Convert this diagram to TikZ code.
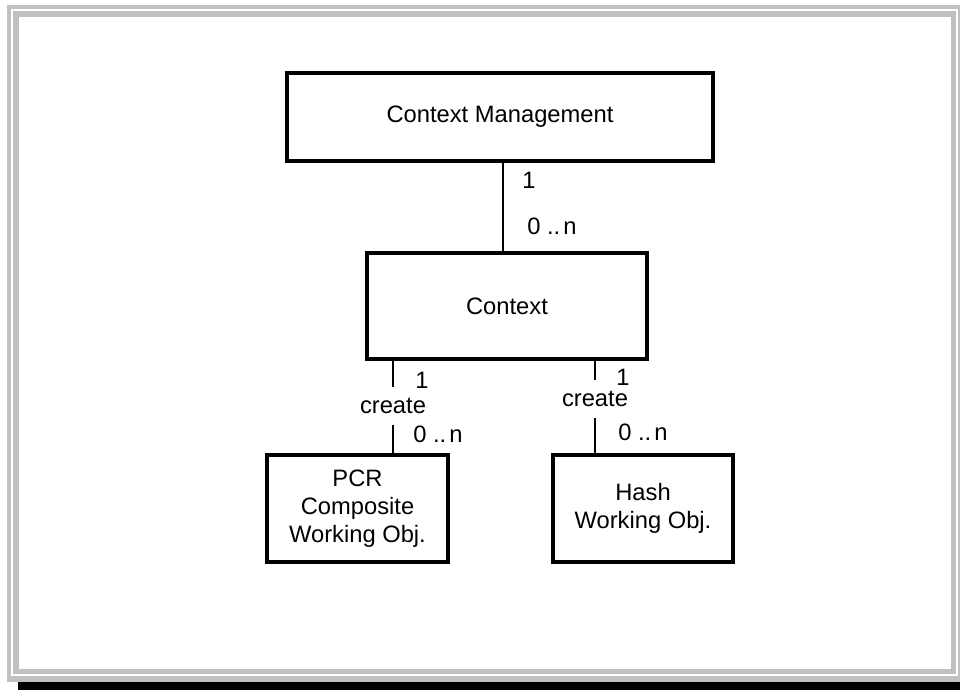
\documentclass[tikz,border=0pt]{standalone}
\usepackage{fontspec}
\setmainfont{Liberation Sans}
\definecolor{framegray}{RGB}{192,192,192}
\newcommand{\mult}{0 ..\kern2.4pt n}
\begin{document}
% one coordinate unit = one pixel (0.75pt); node sizes are given in pt
\begin{tikzpicture}[x=0.75pt,y=-0.75pt,
  box/.style={draw=black, line width=2.6pt, fill=white, inner sep=0pt,
    align=center, font=\fontsize{17.8}{21.2}\selectfont},
  link/.style={draw=black, line width=2.2pt},
  lbl/.style={inner sep=0pt, font=\fontsize{17.8}{21}\selectfont, text=black},
  rel/.style={lbl, minimum height=28.5pt}]
\useasboundingbox (0,0) rectangle (960,690);
\fill[white] (0,0) rectangle (960,690);

% double grey frame with a dark shadow underneath
\fill[framegray] (7,5) rectangle (960,682);
\fill[white] (11,9) rectangle (958,676);
\fill[framegray] (13,11) rectangle (956,674);
\fill[white] (19,17) rectangle (951,669);
\fill[black] (18,682) rectangle (960,690);

% classes
\node[box, minimum width=319.5pt, minimum height=66pt] (cm) at (500,117) {Context Management};
\node[box, minimum width=210pt, minimum height=79.5pt] (ctx) at (507,306) {Context};
\node[box, minimum width=135.75pt, minimum height=80.25pt] (pcr) at (357.5,508.5)
  {PCR\\Composite\\Working Obj.};
\node[box, minimum width=135pt, minimum height=80.25pt] (hash) at (643,508.5)
  {Hash\\Working Obj.};

% association Context Management -- Context
\coordinate (k1) at (503,0);
\draw[link] (cm.south -| k1) -- (ctx.north -| k1);
\node[lbl, anchor=west] (m1) at (522,180) {1};
\node[lbl, anchor=west] (m2) at (527,226) {\mult};

% create relations
\node[rel] (cl) at (393,406) {create};
\node[rel] (cr) at (595,399) {create};
\draw[link] (ctx.south -| cl) -- (cl.north);
\draw[link] (cl.south) -- (pcr.north -| cl);
\draw[link] (ctx.south -| cr) -- (cr.north);
\draw[link] (cr.south) -- (hash.north -| cr);

\node[lbl, anchor=west] (l1) at (415,380) {1};
\node[lbl, anchor=west] (l2) at (413,434) {\mult};
\node[lbl, anchor=west] (r1) at (616,377) {1};
\node[lbl, anchor=west] (r2) at (618,432) {\mult};
\end{tikzpicture}
\end{document}
